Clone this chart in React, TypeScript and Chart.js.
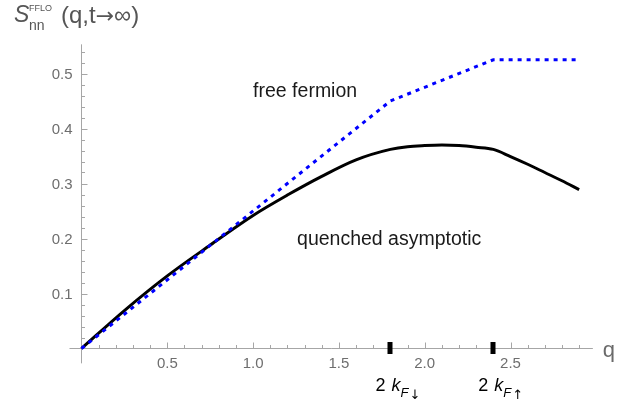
import React, { useEffect, useRef } from "react";
import { Chart, registerables } from "chart.js";

Chart.register(...registerables);

// Quenched asymptotic curve
const qQuenched = [0, 0.25, 0.5, 0.75, 1.0, 1.2, 1.4, 1.6, 1.8, 1.9, 2.0, 2.1, 2.2, 2.3, 2.4, 2.5, 2.6, 2.7, 2.8, 2.9];
const sQuenched = [0, 0.069, 0.132, 0.188, 0.242, 0.279, 0.313, 0.343, 0.362, 0.367, 0.369, 0.37, 0.369, 0.366, 0.362, 0.349, 0.335, 0.32, 0.305, 0.289];

// Free fermion curve
const qFree = [0, 1.8, 2.4, 2.9];
const sFree = [0, 0.45, 0.525, 0.525];

// Axis ticks
const xMajorTicks = [0.5, 1.0, 1.5, 2.0, 2.5];
const xTickLabels = ["0.5", "1.0", "1.5", "2.0", "2.5"];
const xMinorTicks = [0.1, 0.2, 0.3, 0.4, 0.6, 0.7, 0.8, 0.9, 1.1, 1.2, 1.3, 1.4, 1.6, 1.7, 1.8, 1.9, 2.1, 2.2, 2.3, 2.4, 2.6, 2.7, 2.8, 2.9];
const yMajorTicks = [0.1, 0.2, 0.3, 0.4, 0.5];
const yTickLabels = ["0.1", "0.2", "0.3", "0.4", "0.5"];
const yMinorTicks = [0.02, 0.04, 0.06, 0.08, 0.12, 0.14, 0.16, 0.18, 0.22, 0.24, 0.26, 0.28, 0.32, 0.34, 0.36, 0.38, 0.42, 0.44, 0.46, 0.48, 0.52, 0.54];

// Fermi-momentum markers
const fermiMarks = [1.8, 2.4];
const fermiArrows = ["\u2193", "\u2191"];

// Curve labels
const curveLabels = ["free fermion", "quenched asymptotic"];
const curveLabelQ = [1.0, 1.256];
const curveLabelS = [0.457, 0.188];

const FONT = "'Liberation Sans', Arial, sans-serif";
const SYM = "'DejaVu Sans', sans-serif";

const mmaPlugin = {
  id: "mmaAxes",
  beforeDatasetsDraw(chart: any) {
    const { ctx } = chart;
    const x = chart.scales.x;
    const y = chart.scales.y;
    const x0 = x.getPixelForValue(0);
    const y0 = y.getPixelForValue(0);
    ctx.save();
    ctx.strokeStyle = "#a6a6a6";
    ctx.lineWidth = 1;
    ctx.beginPath();
    ctx.moveTo(x.left, y0);
    ctx.lineTo(x.right, y0);
    ctx.moveTo(x0, y.bottom);
    ctx.lineTo(x0, y.top);
    xMajorTicks.forEach((v) => {
      const p = Math.round(x.getPixelForValue(v)) + 0.5;
      ctx.moveTo(p, y0);
      ctx.lineTo(p, y0 - 6);
    });
    xMinorTicks.forEach((v) => {
      const p = Math.round(x.getPixelForValue(v)) + 0.5;
      ctx.moveTo(p, y0);
      ctx.lineTo(p, y0 - 3.5);
    });
    yMajorTicks.forEach((v) => {
      const p = Math.round(y.getPixelForValue(v)) + 0.5;
      ctx.moveTo(x0, p);
      ctx.lineTo(x0 + 6, p);
    });
    yMinorTicks.forEach((v) => {
      const p = Math.round(y.getPixelForValue(v)) + 0.5;
      ctx.moveTo(x0, p);
      ctx.lineTo(x0 + 3.5, p);
    });
    ctx.stroke();

    // tick labels
    ctx.fillStyle = "#6e6e6e";
    ctx.font = `15px ${FONT}`;
    ctx.textAlign = "center";
    ctx.textBaseline = "middle";
    xMajorTicks.forEach((v, i) => {
      ctx.fillText(xTickLabels[i], x.getPixelForValue(v), y0 + 15);
    });
    ctx.textAlign = "right";
    yMajorTicks.forEach((v, i) => {
      ctx.fillText(yTickLabels[i], x0 - 9, y.getPixelForValue(v) + 1);
    });

    // axis labels
    ctx.textAlign = "left";
    ctx.textBaseline = "alphabetic";
    ctx.fillStyle = "#6a6a6a";
    ctx.font = `22px ${FONT}`;
    ctx.fillText("q", x.right + 10, y0 + 8);

    ctx.fillStyle = "#555555";
    ctx.font = `italic 23px ${FONT}`;
    ctx.fillText("S", 14, 22);
    ctx.font = `9px ${FONT}`;
    ctx.fillText("FFLO", 29, 11);
    ctx.font = `14px ${FONT}`;
    ctx.fillText("nn", 29, 30);
    ctx.font = `24px ${FONT}`;
    let cx = 61;
    ctx.fillText("(q,t", cx, 23);
    cx += ctx.measureText("(q,t").width;
    ctx.font = `22px ${SYM}`;
    ctx.fillText("\u2192", cx, 23);
    cx += ctx.measureText("\u2192").width;
    ctx.font = `24px ${FONT}`;
    ctx.fillText("\u221e)", cx, 23);
    ctx.restore();
  },
  afterDatasetsDraw(chart: any) {
    const { ctx } = chart;
    const x = chart.scales.x;
    const y = chart.scales.y;
    const y0 = y.getPixelForValue(0);
    ctx.save();
    ctx.fillStyle = "#000";
    fermiMarks.forEach((v, i) => {
      const p = x.getPixelForValue(v);
      ctx.fillRect(Math.round(p) - 2.5, y0 - 6.5, 5, 12);
      ctx.textAlign = "left";
      ctx.textBaseline = "alphabetic";
      ctx.font = `18px ${FONT}`;
      ctx.fillText("2", p - 15, 391);
      ctx.font = `italic 18px ${FONT}`;
      ctx.fillText("k", p + 1, 391);
      ctx.font = `italic 13px ${FONT}`;
      ctx.fillText("F", p + 10, 397);
      ctx.font = `13px ${SYM}`;
      ctx.fillText(fermiArrows[i], p + 19, 399);
    });
    ctx.fillStyle = "#1a1a1a";
    ctx.font = `19.5px ${FONT}`;
    curveLabels.forEach((t, i) => {
      ctx.fillText(t, x.getPixelForValue(curveLabelQ[i]), y.getPixelForValue(curveLabelS[i]));
    });
    ctx.restore();
  },
};

export default function App() {
  const ref = useRef<HTMLCanvasElement | null>(null);
  useEffect(() => {
    if (!ref.current) return;
    const chart = new Chart(ref.current, {
      type: "line",
      data: {
        datasets: [
          {
            label: "free fermion",
            data: qFree.map((q, i) => ({ x: q, y: sFree[i] })),
            borderColor: "#0000ff",
            borderWidth: 3,
            borderDash: [4, 5],
            borderCapStyle: "butt",
            pointRadius: 0,
            tension: 0,
            fill: false,
          },
          {
            label: "quenched asymptotic",
            data: qQuenched.map((q, i) => ({ x: q, y: sQuenched[i] })),
            borderColor: "#000000",
            borderWidth: 3,
            pointRadius: 0,
            cubicInterpolationMode: "monotone",
            fill: false,
          },
        ],
      },
      options: {
        responsive: false,
        animation: false,
        devicePixelRatio: 1,
        layout: { padding: { left: 69.49, right: 46.13, top: 44.35, bottom: 46.65 } },
        plugins: { legend: { display: false }, tooltip: { enabled: false }, title: { display: false } },
        scales: {
          x: { type: "linear", min: -0.07, max: 2.98, display: false },
          y: { type: "linear", min: -0.027, max: 0.553, display: false },
        },
        events: [],
      },
      plugins: [mmaPlugin],
    } as any);
    return () => chart.destroy();
  }, []);
  return (
    <div style={{ position: "absolute", left: 0, top: 0, width: 639, height: 410, background: "#fff" }}>
      <canvas ref={ref} width={639} height={410} style={{ display: "block" }} />
    </div>
  );
}
